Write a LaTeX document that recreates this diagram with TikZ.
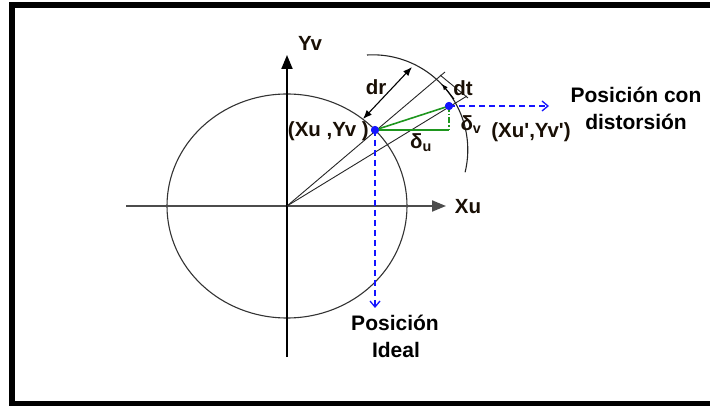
\documentclass[tikz,border=0pt]{standalone}
\usepackage{fontspec}
\setmainfont{Liberation Sans}
\usetikzlibrary{arrows.meta}
\begin{document}
\begin{tikzpicture}[x=1pt,y=-1pt,
  lbl/.style={font=\fontsize{20.5}{24}\selectfont\bfseries, inner sep=0pt, text={rgb,255:red,25;green,15;blue,5}},
  big/.style={font=\fontsize{21}{24}\selectfont\bfseries, inner sep=0pt},
  axisline/.style={line width=2pt, -{Triangle[length=14pt,width=11pt]}},
  thinline/.style={line width=0.9pt, black!85},
  dimarrow/.style={line width=1.1pt, {Latex[length=9pt,width=7pt]}-{Latex[length=9pt,width=7pt]}},
  smallarrow/.style={line width=1pt, {Latex[length=6pt,width=5pt]}-},
  greenline/.style={line width=1.6pt, draw={rgb,255:red,30;green,150;blue,30}},
  bluedash/.style={line width=1.3pt, draw={rgb,255:red,20;green,20;blue,255}, dash pattern=on 6pt off 4pt, -{Straight Barb[length=6pt,width=10pt]}},
  dotnode/.style={circle, fill={rgb,255:red,20;green,20;blue,255}, minimum size=8pt, inner sep=0pt}]
\useasboundingbox (0,0) rectangle (710,406);
% frame
\draw[line width=6pt] (712,5.3) -- (12.2,5.3) -- (12.2,403.8) -- (712,403.8);
% key points
\coordinate (O) at (287,206);
\coordinate (xa) at (126,206);
\coordinate (xb) at (446,206);
\coordinate (ya) at (287,357);
\coordinate (yb) at (287,55);
\coordinate (r1) at (445,72);
\coordinate (r2) at (467,96);
\coordinate (dr1) at (363,119);
\coordinate (dr2) at (412,67);
\coordinate (t1) at (440,75);
\coordinate (t2) at (468,98);
\coordinate (dta) at (442,84);
\coordinate (dtb) at (454,99);
\coordinate (arcstart) at (367,55);
\coordinate (corner) at (449,130);
\coordinate (pend) at (375,308);
\coordinate (qend) at (549,106);
% circle
\draw[line width=1.1pt, black!80] (O) ellipse [x radius=120, y radius=112];
% axes
\draw[axisline, black!70] (xa) -- (xb);
\draw[axisline, black] (ya) -- (yb);
% radial lines
\draw[thinline] (O) -- (r1);
\draw[thinline] (O) -- (r2);
% outer arc
\draw[thinline, line width=1.1pt] (arcstart) arc[start angle=-93.5, end angle=13.7, radius=95];
% dr and dt
\draw[dimarrow] (dr1) -- (dr2);
\draw[thinline] (t1) -- (t2);
\draw[smallarrow] (dta) -- (dtb);
% points
\node[dotnode] (P) at (375,130) {};
\node[dotnode] (Q) at (449,106) {};
% green
\draw[greenline] (P.center) -- (Q.center);
\draw[greenline] (P.center) -- (corner);
\draw[greenline, line width=1.3pt, dash pattern=on 6pt off 2pt on 1.5pt off 2pt] (Q.center) -- (corner);
% blue dashed
\draw[bluedash] (P.center) -- (pend);
\draw[bluedash] (Q.center) -- (qend);
\node[dotnode] at (P.center) {};
\node[dotnode] at (Q.center) {};
% labels
\node[lbl] (lYv) at (310,43) {Yv};
\node[lbl] (lXu) at (468,207) {Xu};
\node[lbl] (ldr) at (376,87) {dr};
\node[lbl] (ldt) at (463,88) {dt};
\node[lbl, anchor=east] (lP) at (369,131) {(Xu ,Yv )};
\node[lbl] (ldu) at (421,143) {δ\textsubscript{u}};
\node[lbl] (ldv) at (471,125) {δ\textsubscript{v}};
\node[lbl] (lQ) at (531,132) {(Xu\textquotesingle,Yv\textquotesingle)};
\node[big] (pc1) at (636,95) {Posición con};
\node[big] (pc2) at (636,122) {distorsión};
\node[big] (pi1) at (395,323) {Posición};
\node[big] (pi2) at (396,350) {Ideal};
\end{tikzpicture}
\end{document}
